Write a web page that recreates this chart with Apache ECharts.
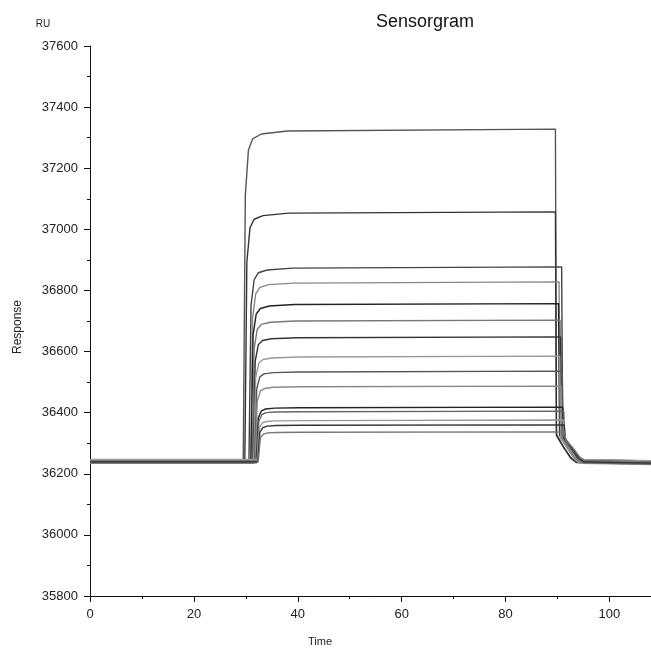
<!DOCTYPE html>
<html>
<head>
<meta charset="utf-8">
<title>Sensorgram</title>
<script src="https://cdn.jsdelivr.net/npm/echarts@6/dist/echarts.min.js"></script>
<style>
  html, body { margin: 0; padding: 0; background: #fff; }
  #chart { width: 651px; height: 648px; }
</style>
</head>
<body>
<div id="chart"></div>
<script>
// [time, RU] points, one array per injection
var curve1  = [[0,36242],[29.5,36242],[29.9,37111],[30.5,37260],[31.3,37296],[33,37312],[38,37322],[89.6,37328],[89.8,36330],[91.1,36290],[92.6,36252],[93.6,36240],[108,36236]];
var curve2  = [[0,36238],[29.8,36238],[30.2,36893],[30.8,37005],[31.6,37033],[33.3,37045],[38.3,37053],[89.6,37057],[89.8,36325],[91.1,36288],[92.6,36250],[93.6,36237],[108,36233]];
var curve3  = [[0,36245],[30.6,36245],[31.0,36751],[31.6,36835],[32.4,36858],[34.1,36867],[39,36873],[90.8,36877],[91.0,36330],[92.3,36292],[93.8,36252],[94.6,36245],[108,36240]];
var curve4  = [[0,36236],[30.9,36236],[31.3,36710],[31.9,36789],[32.7,36810],[34.4,36819],[39.3,36824],[90.3,36828],[90.5,36322],[91.8,36286],[93.3,36248],[94.2,36236],[108,36232]];
var curve5  = [[0,36243],[31.0,36243],[31.4,36654],[32.0,36723],[32.8,36741],[34.5,36749],[39.4,36754],[90.2,36757],[90.4,36327],[91.7,36291],[93.2,36253],[94.1,36243],[108,36239]];
var curve6  = [[0,36240],[31.2,36240],[31.6,36610],[32.2,36673],[33.0,36689],[34.7,36696],[39.6,36700],[90.5,36703],[90.7,36318],[92.0,36287],[93.5,36249],[94.4,36240],[108,36236]];
var curve7  = [[0,36246],[31.4,36246],[31.8,36568],[32.4,36622],[33.2,36636],[34.9,36642],[39.8,36645],[90.6,36648],[90.8,36324],[92.1,36293],[93.6,36255],[94.5,36246],[108,36242]];
var curve8  = [[0,36234],[31.5,36234],[31.9,36515],[32.5,36562],[33.3,36574],[35.0,36579],[39.9,36582],[90.4,36585],[90.6,36316],[91.9,36284],[93.4,36246],[94.3,36234],[108,36230]];
var curve9  = [[0,36244],[31.7,36244],[32.1,36478],[32.7,36517],[33.5,36527],[35.2,36531],[40.1,36533],[90.9,36536],[91.1,36321],[92.4,36290],[93.9,36254],[94.8,36244],[108,36240]];
var curve10 = [[0,36238],[31.8,36238],[32.2,36437],[32.8,36471],[33.6,36479],[35.3,36483],[40.2,36485],[90.7,36487],[90.9,36315],[92.2,36286],[93.7,36249],[94.6,36238],[108,36234]];
var curve11 = [[0,36241],[32.0,36241],[32.4,36383],[33.0,36406],[33.8,36412],[35.5,36415],[40.4,36416],[91.0,36418],[91.2,36318],[92.5,36288],[94.0,36251],[94.9,36241],[108,36237]];
var curve12 = [[0,36236],[32.1,36236],[32.5,36371],[33.1,36394],[33.9,36400],[35.6,36402],[40.5,36403],[91.2,36405],[91.4,36314],[92.7,36285],[94.2,36247],[95.0,36236],[108,36232]];
var curve13 = [[0,36247],[32.2,36247],[32.6,36350],[33.2,36367],[34.0,36371],[35.7,36373],[40.6,36374],[91.1,36376],[91.3,36320],[92.6,36292],[94.1,36256],[95.0,36247],[108,36243]];
var curve14 = [[0,36239],[32.3,36239],[32.7,36336],[33.3,36351],[34.1,36356],[35.8,36358],[40.7,36359],[91.3,36360],[91.5,36312],[92.8,36284],[94.3,36248],[95.1,36239],[108,36235]];
var curve15 = [[0,36243],[32.4,36243],[32.8,36318],[33.4,36330],[34.2,36334],[35.9,36335],[40.8,36336],[91.4,36337],[91.6,36310],[92.9,36286],[94.4,36252],[95.2,36243],[108,36239]];

var curves = [curve1, curve2, curve3, curve4, curve5, curve6, curve7, curve8,
              curve9, curve10, curve11, curve12, curve13, curve14, curve15];
var lineColors = ['#555', '#333', '#444', '#888', '#222', '#777', '#333', '#999',
                  '#555', '#888', '#222', '#666', '#999', '#333', '#777'];

var axisText = { color: '#222', fontSize: 13, fontFamily: 'Liberation Sans' };

var chart = echarts.init(document.getElementById('chart'), null, { renderer: 'canvas' });

var series = curves.map(function (c, i) {
    return {
        name: 'curve' + (i + 1),
        type: 'line',
        data: c,
        showSymbol: false,
        smooth: false,
        silent: true,
        lineStyle: { color: lineColors[i], width: 1.4 }
    };
});

chart.setOption({
    animation: false,
    backgroundColor: '#fff',
    grid: { left: 90, right: 0, top: 46, bottom: 52, containLabel: false, outerBoundsMode: 'none' },
    xAxis: {
        type: 'value',
        min: 0, max: 108, interval: 20,
        axisLine: { show: true, onZero: false, lineStyle: { color: '#111', width: 1 } },
        axisTick: { show: true, inside: false, length: 6, lineStyle: { color: '#111' } },
        minorTick: { show: true, splitNumber: 2, length: 3, lineStyle: { color: '#111' } },
        axisLabel: Object.assign({
            margin: 12,
            showMaxLabel: false,
            formatter: function (v) { return v % 20 === 0 ? String(v) : ''; }
        }, axisText),
        splitLine: { show: false }
    },
    yAxis: {
        type: 'value',
        min: 35800, max: 37600, interval: 200,
        axisLine: { show: true, onZero: false, lineStyle: { color: '#111', width: 1 } },
        axisTick: { show: true, inside: false, length: 6, lineStyle: { color: '#111' } },
        minorTick: { show: true, splitNumber: 2, length: 3, lineStyle: { color: '#111' } },
        axisLabel: Object.assign({
            margin: 12,
            formatter: function (v) { return String(v); }
        }, axisText),
        splitLine: { show: false }
    },
    graphic: [
        { type: 'text', x: 425, y: 22, style: { text: 'Sensorgram', fill: '#111', font: '18px "Liberation Sans"', textAlign: 'center', textVerticalAlign: 'middle' } },
        { type: 'text', x: 43, y: 24, style: { text: 'RU', fill: '#222', font: '10px "Liberation Sans"', textAlign: 'center', textVerticalAlign: 'middle' } },
        { type: 'text', x: 320, y: 642, style: { text: 'Time', fill: '#222', font: '11px "Liberation Sans"', textAlign: 'center', textVerticalAlign: 'middle' } },
        { type: 'text', x: 18, y: 327, rotation: Math.PI / 2, style: { text: 'Response', fill: '#222', font: '12px "Liberation Sans"', textAlign: 'center', textVerticalAlign: 'middle' } }
    ],
    series: series
});
</script>
</body>
</html>
